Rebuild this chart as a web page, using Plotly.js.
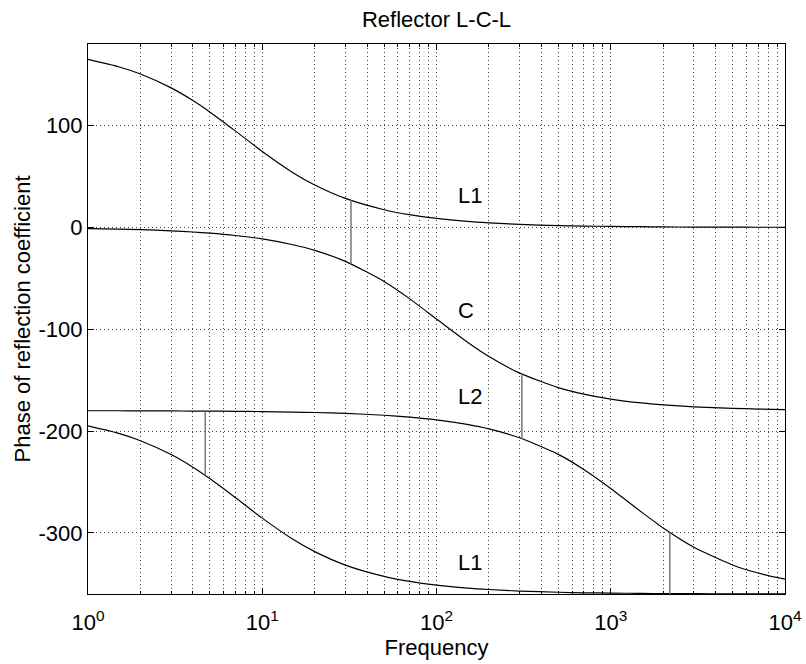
<!DOCTYPE html>
<html>
<head>
<meta charset="utf-8">
<script src="https://cdn.plot.ly/plotly-3.0.1.min.js"></script>
<style>html,body{margin:0;padding:0;background:#fff;}#chart{width:806px;height:664px;}</style>
</head>
<body>
<div id="chart"></div>
<script>
// Frequencies at which the curves were read
var freq = [1, 1.5, 2, 3, 4, 5, 7, 10, 15, 20, 30, 50, 70, 100, 150, 200, 300, 500, 700, 1000, 1500, 2000, 3000, 5000, 7000, 10000];
// Upper L1 curve (deg)
var phaseL1top = [165.0, 157.7, 150.5, 136.9, 124.5, 113.3, 94.7, 74.5, 53.7, 41.6, 28.4, 17.3, 12.4, 8.7, 5.8, 4.4, 2.9, 1.7, 1.2, 0.9, 0.6, 0.4, 0.3, 0.2, 0.1, 0.1];
// C curve (deg)
var phaseC = [-1.2, -1.7, -2.3, -3.4, -4.6, -5.7, -8.0, -11.4, -17.1, -22.6, -33.4, -53.1, -70.0, -90.0, -112.6, -126.9, -143.1, -157.4, -163.7, -168.6, -172.4, -174.3, -176.2, -177.7, -178.4, -178.9];
// L2 curve (deg)
var phaseL2 = [-180.1, -180.1, -180.2, -180.3, -180.4, -180.5, -180.6, -180.9, -181.4, -181.8, -182.7, -184.5, -186.3, -189.0, -193.5, -197.9, -206.6, -222.9, -237.7, -256.4, -279.5, -295.2, -314.1, -331.5, -339.4, -345.5];
// Lower L1 curve (deg)
var phaseL1bot = [-195.0, -202.3, -209.5, -223.1, -235.5, -246.7, -265.3, -285.5, -306.3, -318.4, -331.6, -342.7, -347.6, -351.3, -354.2, -355.6, -357.1, -358.3, -358.8, -359.1, -359.4, -359.6, -359.7, -359.8, -359.9, -359.9];

// Vertical connector segments
var markFreq = [32.3, 309, 4.71, 2183];
var markTop = [26.5, -144.0, -180.4, -299.6];
var markBot = [-35.8, -207.3, -243.6, -360];

// Curve labels
var labelText = ['L1', 'C', 'L2', 'L1'];
var labelFreq = [133, 133, 133, 133];
var labelPhase = [29, -84, -168, -331];

// Axis ticks
var xTickVals = [1, 10, 100, 1000, 10000];
var xTickText = ['10<sup>0</sup>', '10<sup>1</sup>', '10<sup>2</sup>', '10<sup>3</sup>', '10<sup>4</sup>'];
var xMinorVals = [2,3,4,5,6,7,8,9,20,30,40,50,60,70,80,90,200,300,400,500,600,700,800,900,2000,3000,4000,5000,6000,7000,8000,9000];
var yTickVals = [-300, -200, -100, 0, 100];
var yTickText = ['-300', '-200', '-100', '0', '100'];

var curveLine = {color: '#000', width: 1.2, shape: 'spline', smoothing: 0.6};
var traces = [
  {x: freq, y: phaseL1top, mode: 'lines', line: curveLine, hoverinfo: 'skip'},
  {x: freq, y: phaseC, mode: 'lines', line: curveLine, hoverinfo: 'skip'},
  {x: freq, y: phaseL2, mode: 'lines', line: curveLine, hoverinfo: 'skip'},
  {x: freq, y: phaseL1bot, mode: 'lines', line: curveLine, hoverinfo: 'skip'}
];
var mx = [], my = [];
for (var i = 0; i < markFreq.length; i++) {
  mx.push(markFreq[i], markFreq[i], null);
  my.push(markTop[i], markBot[i], null);
}
traces.push({x: mx, y: my, mode: 'lines', line: {color: '#777', width: 1.5}, hoverinfo: 'skip'});
traces.push({x: labelFreq, y: labelPhase, mode: 'text', text: labelText, textposition: 'middle right',
  textfont: {family: 'Liberation Sans, Arial, sans-serif', size: 22, color: '#000'}, hoverinfo: 'skip'});

var fnt = {family: 'Liberation Sans, Arial, sans-serif', size: 22, color: '#000'};
var gridDash = '1px,3px';
var layout = {
  width: 806, height: 664,
  margin: {l: 88, r: 21, t: 44, b: 70},
  paper_bgcolor: '#fff', plot_bgcolor: '#fff',
  showlegend: false,
  font: fnt,
  title: {text: 'Reflector L-C-L', font: fnt, x: 0.5, xref: 'paper', xanchor: 'center', y: 1 - 19/664, yref: 'container', yanchor: 'middle'},
  xaxis: {
    type: 'log', range: [0, 4], tickmode: 'array', tickvals: xTickVals, ticktext: xTickText,
    ticks: 'inside', ticklen: 6, tickcolor: '#000', tickwidth: 1, ticklabelstandoff: 9,
    showline: true, linecolor: '#000', linewidth: 1, mirror: 'allticks',
    showgrid: true, gridcolor: '#444', gridwidth: 1, griddash: gridDash,
    zeroline: false, tickfont: fnt,
    minor: {tickmode: 'array', tickvals: xMinorVals, ticks: 'inside', ticklen: 3, tickcolor: '#000', showgrid: true, gridcolor: '#444', gridwidth: 1, griddash: gridDash},
    title: {text: 'Frequency', font: fnt, standoff: 1},
    automargin: false, fixedrange: true
  },
  yaxis: {
    range: [-360, 180], tickmode: 'array', tickvals: yTickVals, ticktext: yTickText,
    ticks: 'inside', ticklen: 6, tickcolor: '#000', tickwidth: 1,
    showline: true, linecolor: '#000', linewidth: 1, mirror: 'allticks',
    showgrid: true, gridcolor: '#444', gridwidth: 1, griddash: gridDash,
    zeroline: false, tickfont: fnt,
    title: {text: 'Phase of reflection coefficient', font: fnt, standoff: 1},
    automargin: false, fixedrange: true
  }
};
Plotly.newPlot('chart', traces, layout, {displayModeBar: false, staticPlot: true});
</script>
</body>
</html>
